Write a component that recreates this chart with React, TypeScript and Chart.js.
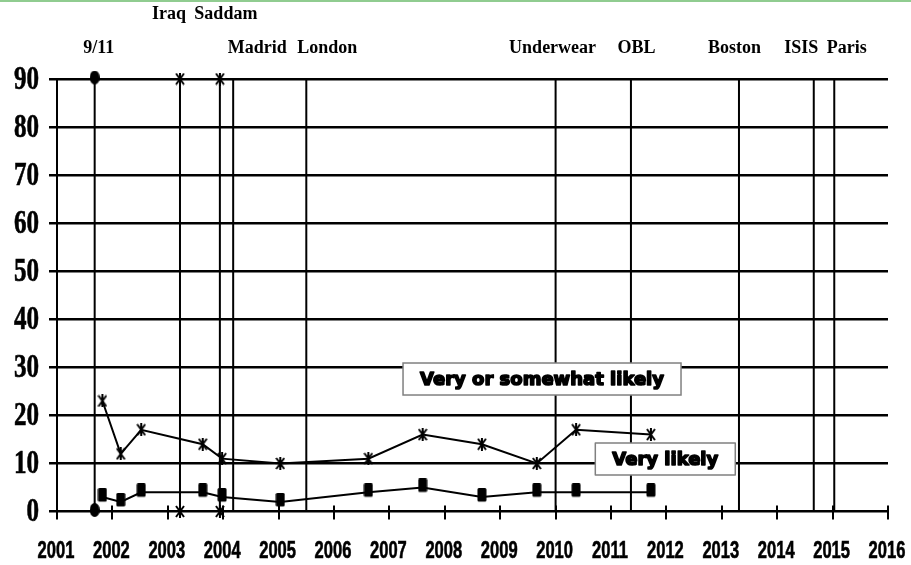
import { useEffect, useRef } from "react";
import { Chart, registerables } from "chart.js";

Chart.register(...registerables);

// ---------- data ----------
const yearTicks = [2001, 2002, 2003, 2004, 2005, 2006, 2007, 2008, 2009, 2010, 2011, 2012, 2013, 2014, 2015, 2016];
const seriesLabels = ["Very or somewhat likely", "Very likely"];
const surveyDates = [2001.82, 2002.15, 2002.52, 2003.63, 2003.98, 2005.03, 2006.62, 2007.6, 2008.67, 2009.66, 2010.37, 2011.72];
const veryOrSomewhatLikely = [23, 12, 17, 14, 11, 10, 11, 16, 14, 10, 17, 16];
const veryLikely = [3, 2, 4, 4, 3, 2, 4, 5, 3, 4, 4, 4];
const eventNames = ["9/11", "Iraq", "Saddam", "Madrid", "London", "Underwear", "OBL", "Boston", "ISIS", "Paris"];
const eventDates = [2001.68, 2003.22, 2003.94, 2004.18, 2005.5, 2010.0, 2011.36, 2013.31, 2014.66, 2015.03];
const eventMarkers = ["dot", "star", "star", "none", "none", "none", "none", "none", "none", "none"];
const valueRange = [0, 90];

// ---------- layout (not data) ----------
const EVENT_LABEL_LAYOUT = [
  { row: 1, dx: 4 },
  { row: 0, dx: -11 },
  { row: 0, dx: 6 },
  { row: 1, dx: 24 },
  { row: 1, dx: 21 },
  { row: 1, dx: -3 },
  { row: 1, dx: 5.5 },
  { row: 1, dx: -4.5 },
  { row: 1, dx: -12.5 },
  { row: 1, dx: 12.5 },
];
const HEADER_ROW_BASELINES = [18.5, 52.5];
const SERIES_BOX_LAYOUT = [
  { x: 2009.755, y: 27.57 },
  { x: 2011.98, y: 10.92 },
];

function makeStar(): HTMLCanvasElement {
  const c = document.createElement("canvas");
  c.width = 10;
  c.height = 13;
  const g = c.getContext("2d")!;
  g.strokeStyle = "#000";
  g.lineWidth = 2;
  g.beginPath();
  g.moveTo(1, 1);
  g.lineTo(9, 12);
  g.moveTo(9, 1);
  g.lineTo(1, 12);
  g.moveTo(5, 0);
  g.lineTo(5, 13);
  g.stroke();
  return c;
}

function makeSquare(): HTMLCanvasElement {
  const c = document.createElement("canvas");
  c.width = 10;
  c.height = 18;
  const g = c.getContext("2d")!;
  g.fillStyle = "#000";
  g.beginPath();
  (g as any).roundRect ? (g as any).roundRect(0.5, 0, 9, 13.5, 1.5) : g.rect(0.5, 0, 9, 13.5);
  g.fill();
  return c;
}

function makeDot(): HTMLCanvasElement {
  const c = document.createElement("canvas");
  c.width = 10;
  c.height = 17;
  const g = c.getContext("2d")!;
  g.fillStyle = "#000";
  g.beginPath();
  g.ellipse(5, 7, 5, 7, 0, 0, Math.PI * 2);
  g.fill();
  return c;
}

const overlayPlugin = {
  id: "overlay",
  afterDraw(chart: any) {
    const ctx: CanvasRenderingContext2D = chart.ctx;
    const xs = chart.scales.x;
    const ys = chart.scales.y;
    const y0 = ys.getPixelForValue(valueRange[0]);
    ctx.save();
    ctx.strokeStyle = "#000";
    ctx.fillStyle = "#000";

    // x tick marks crossing the axis
    ctx.lineWidth = 2;
    yearTicks.forEach((yr) => {
      const px = Math.round(xs.getPixelForValue(yr));
      ctx.beginPath();
      ctx.moveTo(px, y0 - 6);
      ctx.lineTo(px, y0 + 8);
      ctx.stroke();
    });

    // x tick labels (condensed bold sans)
    ctx.font = "bold 23px 'Liberation Sans', Arial, sans-serif";
    ctx.textAlign = "center";
    ctx.textBaseline = "alphabetic";
    ctx.lineWidth = 0.6;
    yearTicks.forEach((yr) => {
      const px = xs.getPixelForValue(yr);
      ctx.save();
      ctx.translate(px - 1, y0 + 46);
      ctx.scale(0.72, 1);
      ctx.fillText(String(yr), 0, 0);
      ctx.strokeText(String(yr), 0, 0);
      ctx.restore();
    });

    // y tick labels (condensed bold serif)
    ctx.font = "bold 33px 'Liberation Serif', 'Times New Roman', serif";
    ctx.textAlign = "right";
    ctx.textBaseline = "middle";
    ys.ticks.forEach((t: any) => {
      const py = ys.getPixelForValue(t.value);
      ctx.save();
      ctx.translate(39, py + 1);
      ctx.scale(0.76, 1);
      ctx.fillText(String(t.value), 0, 0);
      ctx.strokeText(String(t.value), 0, 0);
      ctx.restore();
    });

    // event header labels
    ctx.font = "bold 18px 'Liberation Serif', 'Times New Roman', serif";
    ctx.textAlign = "center";
    ctx.textBaseline = "alphabetic";
    eventNames.forEach((name, i) => {
      const lay = EVENT_LABEL_LAYOUT[i];
      const px = xs.getPixelForValue(eventDates[i]) + lay.dx;
      ctx.fillText(name, px, HEADER_ROW_BASELINES[lay.row]);
    });

    // series label boxes
    ctx.font = "bold 18px 'DejaVu Sans', sans-serif";
    seriesLabels.forEach((label, i) => {
      const lay = SERIES_BOX_LAYOUT[i];
      const cx = xs.getPixelForValue(lay.x);
      const cy = ys.getPixelForValue(lay.y);
      const w = ctx.measureText(label).width + 34;
      const h = 32;
      ctx.fillStyle = "#fff";
      ctx.fillRect(cx - w / 2, cy - h / 2, w, h);
      ctx.strokeStyle = "#808080";
      ctx.lineWidth = 1.5;
      ctx.strokeRect(cx - w / 2, cy - h / 2, w, h);
      ctx.fillStyle = "#000";
      ctx.strokeStyle = "#000";
      ctx.lineWidth = 1.6;
      ctx.lineJoin = "round";
      ctx.textAlign = "center";
      ctx.textBaseline = "middle";
      ctx.fillText(label, cx, cy + 1);
      ctx.strokeText(label, cx, cy + 1);
    });

    ctx.restore();
  },
};

export default function App() {
  const ref = useRef<HTMLCanvasElement>(null);

  useEffect(() => {
    if (!ref.current) return;
    const star = makeStar();
    const square = makeSquare();
    const dot = makeDot();

    const markerFor = (m: string) => (m === "dot" ? dot : m === "star" ? star : false);

    const eventSets = eventNames.map((name, i) => ({
      label: name,
      data: [
        { x: eventDates[i], y: valueRange[0] },
        { x: eventDates[i], y: valueRange[1] },
      ],
      borderColor: "#000",
      backgroundColor: "#000",
      borderWidth: 2,
      pointStyle: markerFor(eventMarkers[i]) as any,
      pointRadius: eventMarkers[i] === "none" ? 0 : 5,
      clip: false as any,
    }));

    const chart = new Chart(ref.current, {
      type: "line",
      data: {
        datasets: [
          {
            label: seriesLabels[0],
            data: surveyDates.map((d, i) => ({ x: d, y: veryOrSomewhatLikely[i] })),
            borderColor: "#000",
            backgroundColor: "#000",
            borderWidth: 2,
            pointStyle: star as any,
            pointRadius: 5,
            tension: 0,
            clip: false as any,
          },
          {
            label: seriesLabels[1],
            data: surveyDates.map((d, i) => ({ x: d, y: veryLikely[i] })),
            borderColor: "#000",
            backgroundColor: "#000",
            borderWidth: 2,
            pointStyle: square as any,
            pointRadius: 5,
            tension: 0,
            clip: false as any,
          },
          ...eventSets,
        ],
      },
      options: {
        responsive: false,
        animation: false,
        events: [],
        layout: { padding: { left: 49, right: 23, top: 79, bottom: 53.5 } },
        plugins: {
          legend: { display: false },
          tooltip: { enabled: false },
        },
        scales: {
          x: {
            type: "linear",
            min: yearTicks[0],
            max: yearTicks[yearTicks.length - 1],
            grid: { display: false, drawTicks: false, tickLength: 0 },
            border: { display: false },
            ticks: { display: false, stepSize: 1 },
          },
          y: {
            type: "linear",
            min: valueRange[0],
            max: valueRange[1],
            ticks: { display: false, stepSize: 10 },
            grid: {
              color: "#000",
              lineWidth: 2.5,
              drawTicks: true,
              tickLength: 8,
            },
            border: { display: true, color: "#000", width: 2 },
          },
        },
      },
      plugins: [overlayPlugin],
    });
    return () => chart.destroy();
  }, []);

  return (
    <div style={{ position: "fixed", left: 0, top: 0, width: 911, height: 565, background: "#fff" }}>
      <canvas ref={ref} width={911} height={565} style={{ width: 911, height: 565, display: "block" }} />
      <div style={{ position: "absolute", left: 0, top: 0, width: 911, height: 2, background: "rgb(144,204,144)" }} />
    </div>
  );
}
